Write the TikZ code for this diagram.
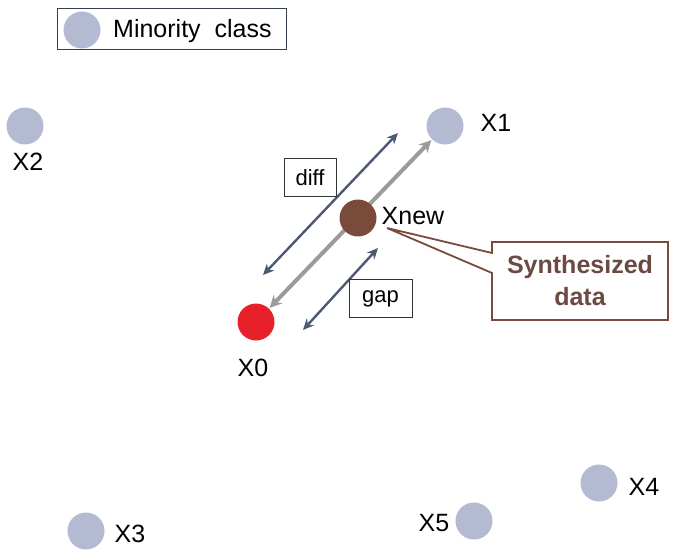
\documentclass[tikz,border=0pt]{standalone}
\usepackage{fontspec}
\setmainfont{Liberation Sans}
\usetikzlibrary{arrows.meta}
\definecolor{lav}{HTML}{B3BAD2}
\definecolor{darkarr}{HTML}{4B5A70}
\definecolor{grayarr}{HTML}{9C9A9A}
\definecolor{brownpt}{HTML}{7A4A3B}
\definecolor{browntx}{HTML}{6A4A42}
\definecolor{redpt}{HTML}{E8202A}
\tikzset{
  pt/.style={circle, fill=lav, minimum size=37pt, inner sep=0pt},
  lbl/.style={font=\fontsize{25}{28}\selectfont, inner sep=0pt},
  tagbox/.style={draw=black!80, line width=1pt, font=\fontsize{22}{24}\selectfont, minimum width=52pt, minimum height=38pt, inner sep=2pt},
  darrow/.style={draw=darkarr, line width=2.4pt, {Stealth[length=11pt,width=10pt]}-{Stealth[length=11pt,width=10pt]}},
  garrow/.style={draw=grayarr, line width=4pt, {Stealth[length=12pt,width=12pt]}-{Stealth[length=12pt,width=12pt]}, shorten <=1pt, shorten >=1pt}
}
\begin{document}
\begin{tikzpicture}[x=1pt,y=-1pt]
\useasboundingbox (0,0) rectangle (677,556);
% legend
\node[draw=darkarr!70!black, line width=1pt, minimum width=229pt, minimum height=41pt, inner sep=0pt] (legend) at (171.5,29.5) {};
\node[pt] (lc) at (82,30) {};
\node[lbl, anchor=west] (lt) at (113,31) {Minority\ \ class};
% main line
\node[pt, fill=redpt] (X0) at (256,322) {};
\node[pt] (X1) at (445,126) {};
\draw[garrow] (X0) -- (X1);
\node[pt, fill=brownpt] (Xn) at (358,218) {};
% other points
\node[pt] (X2) at (25,126) {};
\node[pt] (X3) at (86,531) {};
\node[pt] (X4) at (599,483) {};
\node[pt] (X5) at (474,521) {};
% labels
\node[lbl] (l0) at (253,368) {X0};
\node[lbl] (l1) at (496,123) {X1};
\node[lbl] (l2) at (28,162) {X2};
\node[lbl] (l3) at (130,534) {X3};
\node[lbl] (l4) at (644,487) {X4};
\node[lbl] (l5) at (434,523) {X5};
\node[lbl] (ln) at (413,216) {Xnew};
% diff and gap arrows
\coordinate (d1) at (263,275);
\coordinate (d2) at (398,133);
\draw[darrow] (d1) -- (d2);
\coordinate (g1) at (303,330);
\coordinate (g2) at (378,248);
\draw[darrow] (g1) -- (g2);
\node[tagbox] (diff) at (310,178) {diff};
\node[tagbox, minimum width=63pt] (gap) at (380.5,298.5) {gap};
% synthesized callout
\coordinate (tip) at (387,228);
\coordinate (p1) at (492,253);
\coordinate (p2) at (492,273);
\draw[draw=brownpt, line width=1.8pt, fill=white] (492,242) -- (668,242) -- (668,320) -- (492,320) -- (p2) -- (tip) -- (p1) -- cycle;
\node[font=\fontsize{25}{32}\selectfont\bfseries, text=browntx, align=center] (syn) at (580,281) {Synthesized\\data};
\end{tikzpicture}
\end{document}
